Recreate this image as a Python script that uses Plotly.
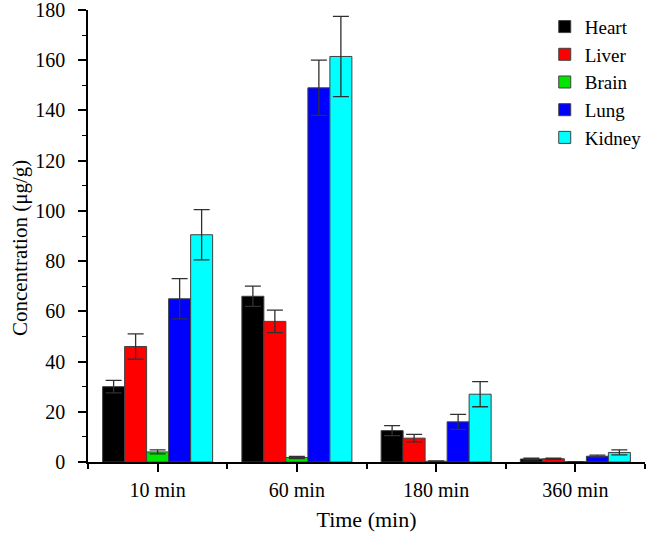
import plotly.graph_objects as go

categories = ["10 min", "60 min", "180 min", "360 min"]
organs = ["Heart", "Liver", "Brain", "Lung", "Kidney"]
colors = ["#000000", "#ff0000", "#00e600", "#0000ff", "#00ffff"]

heart = [30.0, 66.0, 12.5, 1.2]
heart_err = [2.5, 4.0, 2.0, 0.3]
liver = [46.0, 56.0, 9.5, 1.3]
liver_err = [5.0, 4.5, 1.5, 0.2]
brain = [4.0, 1.8, 0.3, 0.1]
brain_err = [0.8, 0.4, 0.1, 0.05]
lung = [65.0, 149.0, 16.0, 2.3]
lung_err = [8.0, 11.0, 3.0, 0.4]
kidney = [90.5, 161.5, 27.0, 3.8]
kidney_err = [10.0, 16.0, 5.0, 1.0]

values = [heart, liver, brain, lung, kidney]
errors = [heart_err, liver_err, brain_err, lung_err, kidney_err]
xpos = list(range(len(categories)))

fig = go.Figure()
for name, col, v, e in zip(organs, colors, values, errors):
    fig.add_trace(go.Bar(
        x=xpos, y=v, name=name,
        marker=dict(color=col, line=dict(color="#404040", width=1)),
        error_y=dict(type="data", array=e, visible=True, color="#303030",
                     thickness=1.3, width=8),
    ))

font = "Times New Roman"
fig.update_layout(
    template="none",
    width=647, height=535,
    margin=dict(l=88, r=2, t=10, b=73, autoexpand=False),
    paper_bgcolor="white", plot_bgcolor="white",
    barmode="group", bargap=0.21, bargroupgap=0,
    font=dict(family=font, size=20, color="black"),
    showlegend=True,
    legend=dict(x=0.82, y=1.005, xanchor="left", yanchor="top",
                font=dict(family=font, size=19, color="black"),
                bgcolor="rgba(0,0,0,0)", tracegroupgap=0),
    xaxis=dict(
        range=[-0.5, 3.5], tickmode="array", tickvals=xpos, ticktext=categories,
        showline=True, linecolor="black", linewidth=1.5,
        ticks="outside", ticklen=8, tickwidth=1.5, tickcolor="black",
        showgrid=False, zeroline=False, automargin=False,
        ticklabelstandoff=1, ticklabeloverflow="allow",
        minor=dict(tickvals=[-0.5, 0.5, 1.5, 2.5, 3.5], ticks="outside",
                   ticklen=5, tickwidth=1.5, tickcolor="black"),
        title=dict(text="Time (min)", font=dict(family=font, size=22), standoff=12),
        tickfont=dict(family=font, size=20, color="black"),
    ),
    yaxis=dict(
        range=[0, 180], tickmode="linear", tick0=0, dtick=20,
        showline=True, linecolor="black", linewidth=1.5,
        ticks="outside", ticklen=8, tickwidth=1.5, tickcolor="black",
        showgrid=False, zeroline=False, automargin=False,
        ticklabelstandoff=9, ticklabeloverflow="allow",
        minor=dict(dtick=10, ticks="outside", ticklen=4, tickwidth=1.2,
                   tickcolor="black"),
        tickfont=dict(family=font, size=20, color="black"),
    ),
    annotations=[dict(
        text="Concentration (μg/g)", xref="paper", yref="paper",
        x=-0.122, y=0.4735, xanchor="center", yanchor="middle",
        textangle=-90, showarrow=False,
        font=dict(family=font, size=21, color="black"),
    )],
)

fig.write_html("out.html", config={"displayModeBar": False},
               post_script="document.body.style.margin='0';")
